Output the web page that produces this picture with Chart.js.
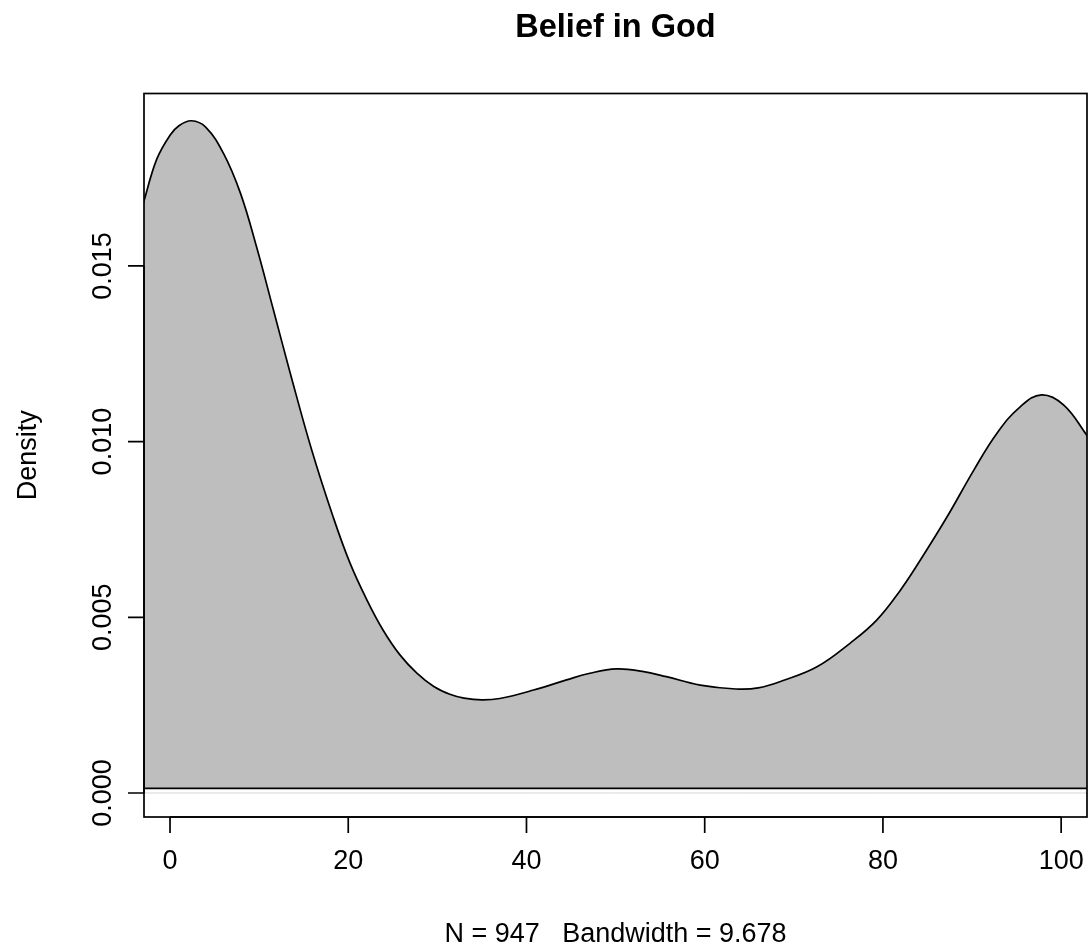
<!DOCTYPE html>
<html>
<head>
<meta charset="utf-8">
<title>Belief in God</title>
<script src="https://cdn.jsdelivr.net/npm/chart.js@4/dist/chart.umd.min.js"></script>
<style>
  html, body { margin: 0; padding: 0; background: #ffffff; }
  canvas { display: block; }
</style>
</head>
<body>
<canvas id="chart" width="1090" height="951"></canvas>
<script>
// Density estimate (x = belief score, y = density)
var densityX = [-3, -1.5, 0, 1, 2.4, 4, 6, 7.9, 9.7, 11.6, 13.5, 15.9, 18.3, 20.2, 22.1,
  23.9, 25.8, 27.7, 29.6, 31.4, 33, 35, 37, 40.8, 44.5, 47, 50.1, 53, 55.7, 59.5,
  63.5, 66, 68.8, 72.6, 76.3, 79.3, 81.9, 84.2, 87.2, 90.2, 92.8, 95.4, 97.8, 100.3, 103];
var densityY = [0.01678, 0.01803, 0.01872, 0.01899, 0.01913, 0.01895, 0.01820, 0.01707,
  0.01555, 0.01375, 0.01194, 0.00976, 0.00786, 0.00654, 0.00549, 0.00464, 0.00393,
  0.00341, 0.00303, 0.00281, 0.00270, 0.00265, 0.00269, 0.00293, 0.00322, 0.00340,
  0.00353, 0.00346, 0.00331, 0.00307, 0.00296, 0.00299, 0.00320, 0.00359, 0.00426,
  0.00492, 0.00575, 0.00663, 0.00786, 0.00919, 0.01024, 0.01099, 0.01133, 0.01104, 0.01014];
var polygonBase = 0.00013;   // level where the polygon closes
var xTicks = [0, 20, 40, 60, 80, 100];
var yTicks = [0, 0.005, 0.010, 0.015];
var yTickLabels = ['0.000', '0.005', '0.010', '0.015'];
var titleText = 'Belief in God';
var xLabel = 'N = 947   Bandwidth = 9.678';
var yLabel = 'Density';

var FONT = '"Liberation Sans", Arial, Helvetica, sans-serif';

function pts(xs, ys) {
  return xs.map(function (x, i) { return { x: x, y: ys[i] }; });
}

var xFirst = densityX[0];
var xLast = densityX[densityX.length - 1];

// R-style axes, box and labels, drawn from the chart's own scales
var rAxes = {
  id: 'rAxes',
  afterDraw: function (chart) {
    var ctx = chart.ctx;
    var a = chart.chartArea;
    var xs = chart.scales.x;
    var ys = chart.scales.y;
    var tick = 16;
    ctx.save();
    ctx.strokeStyle = '#000';
    ctx.fillStyle = '#000';
    ctx.lineWidth = 1.7;

    // box
    ctx.strokeRect(a.left, a.top, a.right - a.left, a.bottom - a.top);

    // x axis
    var x0 = xs.getPixelForValue(xTicks[0]);
    var x1 = xs.getPixelForValue(xTicks[xTicks.length - 1]);
    ctx.beginPath();
    ctx.moveTo(x0, a.bottom);
    ctx.lineTo(x1, a.bottom);
    xTicks.forEach(function (v) {
      var px = xs.getPixelForValue(v);
      ctx.moveTo(px, a.bottom);
      ctx.lineTo(px, a.bottom + tick);
    });
    ctx.stroke();
    ctx.font = '27px ' + FONT;
    ctx.textAlign = 'center';
    ctx.textBaseline = 'alphabetic';
    xTicks.forEach(function (v) {
      ctx.fillText(String(v), xs.getPixelForValue(v), a.bottom + 52);
    });

    // y axis
    var y0 = ys.getPixelForValue(yTicks[0]);
    var y1 = ys.getPixelForValue(yTicks[yTicks.length - 1]);
    ctx.beginPath();
    ctx.moveTo(a.left, y0);
    ctx.lineTo(a.left, y1);
    yTicks.forEach(function (v) {
      var py = ys.getPixelForValue(v);
      ctx.moveTo(a.left, py);
      ctx.lineTo(a.left - tick, py);
    });
    ctx.stroke();
    yTicks.forEach(function (v, i) {
      ctx.save();
      ctx.translate(a.left - 33, ys.getPixelForValue(v));
      ctx.rotate(-Math.PI / 2);
      ctx.fillText(yTickLabels[i], 0, 0);
      ctx.restore();
    });

    // axis titles
    ctx.fillText(xLabel, (a.left + a.right) / 2, 942);
    ctx.save();
    ctx.translate(36, (a.top + a.bottom) / 2);
    ctx.rotate(-Math.PI / 2);
    ctx.fillText(yLabel, 0, 0);
    ctx.restore();

    // main title
    ctx.font = 'bold 32.5px ' + FONT;
    ctx.fillText(titleText, (a.left + a.right) / 2, 37);
    ctx.restore();
  }
};

new Chart(document.getElementById('chart'), {
  type: 'line',
  data: {
    datasets: [
      {
        // zero line
        data: pts([xFirst, xLast], [0, 0]),
        borderColor: '#d6d6d6',
        borderWidth: 1,
        pointRadius: 0,
        fill: false,
        order: 3
      },
      {
        // density polygon
        data: pts(densityX, densityY),
        borderColor: '#000000',
        borderWidth: 1.7,
        backgroundColor: '#bebebe',
        pointRadius: 0,
        tension: 0.4,
        fill: { value: polygonBase },
        order: 2
      },
      {
        // closing edge of the polygon
        data: pts([xFirst, xLast], [polygonBase, polygonBase]),
        borderColor: '#000000',
        borderWidth: 1.7,
        pointRadius: 0,
        fill: false,
        order: 1
      }
    ]
  },
  options: {
    responsive: false,
    animation: false,
    devicePixelRatio: 1,
    layout: { padding: { left: 144, right: 3, top: 93.5, bottom: 134 } },
    scales: {
      x: { type: 'linear', min: -2.92, max: 102.9, display: false },
      y: { type: 'linear', min: -0.000683, max: 0.019906, display: false }
    },
    plugins: {
      legend: { display: false },
      tooltip: { enabled: false },
      title: { display: false }
    }
  },
  plugins: [rAxes]
});
</script>
</body>
</html>
